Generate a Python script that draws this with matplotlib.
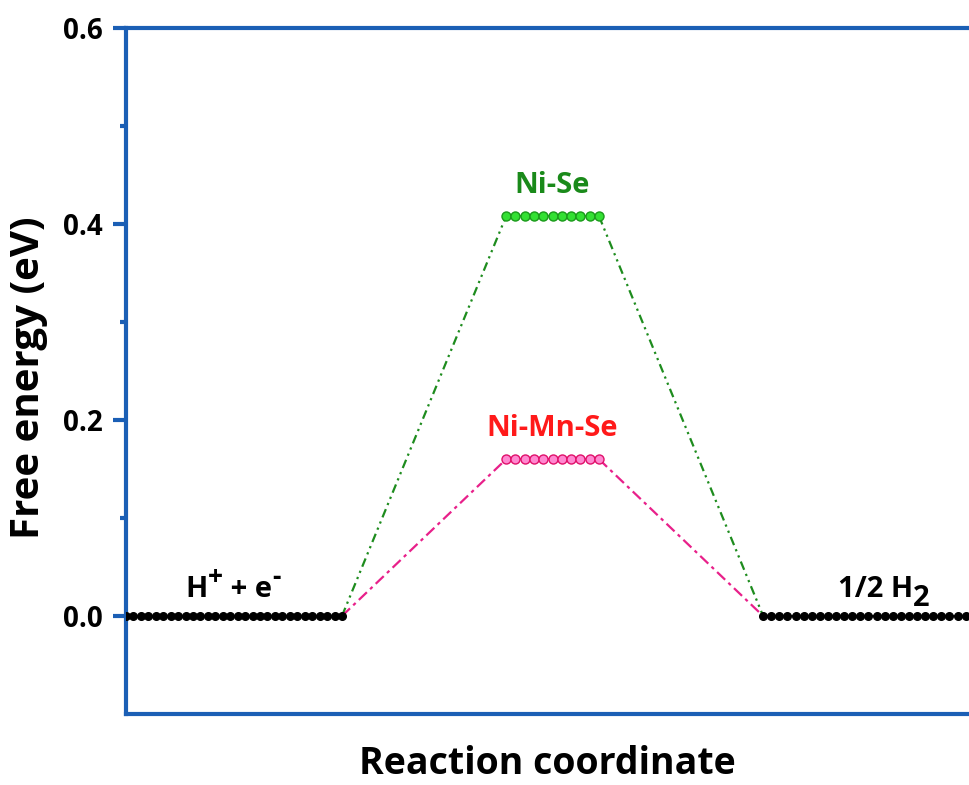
import numpy as np
import matplotlib
matplotlib.use("Agg")
import matplotlib.pyplot as plt
from matplotlib.transforms import offset_copy

plt.rcParams["font.family"] = ["Open Sans", "DejaVu Sans"]
plt.rcParams["font.weight"] = "bold"

# reaction steps: start, intermediate, end (x extents in reaction-coordinate units)
level_start = [0.0, 1.76, 2.95]
level_end = [1.0, 2.19, 4.0]

catalysts = ["Ni-Se", "Ni-Mn-Se"]
dG_H = [0.408, 0.16]          # eV, adsorbed H* free energy
line_colors = ["#1e8c1e", "#e8208a"]
face_colors = ["#33e033", "#ff88d0"]
edge_colors = ["#1a9a1a", "#e0106a"]
label_colors = ["#1a8a1a", "#ff1a1a"]
dash_styles = [(4, 2, 1, 2, 1, 2), (5, 2, 1.5, 2)]

BLUE = "#1b5fb5"

fig = plt.figure(figsize=(9.69, 7.85), dpi=100)
ax = fig.add_axes([0.130, 0.0904, 0.870, 0.8739])


def rich_label(ax, x, y, pieces):
    """Centered label built from (text, size, rise_pt) pieces."""
    renderer = fig.canvas.get_renderer()
    widths = []
    for s, size, _ in pieces:
        t = ax.text(0, 0, s, fontsize=size, fontweight="bold")
        widths.append(t.get_window_extent(renderer).width)
        t.remove()
    off = -sum(widths) / 2
    for (s, size, rise), w in zip(pieces, widths):
        tr = offset_copy(ax.transData, fig=fig, x=off, y=rise * fig.dpi / 72,
                         units="dots")
        ax.text(x, y, s, fontsize=size, fontweight="bold", transform=tr,
                ha="left", va="baseline", color="black")
        off += w


# connectors between levels
for name, g, lc, ds in zip(catalysts, dG_H, line_colors, dash_styles):
    ax.plot([level_end[0], level_start[1]], [0, g], color=lc, lw=1.6,
            dashes=ds, zorder=2)
    ax.plot([level_end[1], level_start[2]], [g, 0], color=lc, lw=1.6,
            dashes=ds, zorder=2)

# intermediate levels drawn as dotted bars
for name, g, fc, ec, tc in zip(catalysts, dG_H, face_colors, edge_colors,
                               label_colors):
    xs = np.linspace(level_start[1], level_end[1], 11)
    ax.plot(xs, [g] * len(xs), color=ec, lw=1.2, marker="o", ms=6.5,
            mfc=fc, mec=ec, mew=1.0, zorder=3)
    ax.text((level_start[1] + level_end[1]) / 2, g + 0.017, name,
            color=tc, fontsize=21, fontweight="bold", ha="center",
            va="bottom")

# initial and final states
for i in (0, 2):
    n = 30 if i == 0 else 29
    xs = np.linspace(level_start[i], level_end[i], n)
    ax.plot(xs, [0] * n, color="black", lw=1.2, marker="o", ms=5.5,
            mfc="black", mec="black", zorder=3)

ax.set_xlim(0, 3.903)
ax.set_ylim(-0.1, 0.6)

rich_label(ax, 0.495, 0.019, [("H", 21, 0), ("+", 19, 9), (" + e", 21, 0),
                              ("-", 19, 9)])
rich_label(ax, 3.51, 0.019, [("1/2 H", 21, 0), ("2", 21, -6)])

ax.set_yticks([0.0, 0.2, 0.4, 0.6])
ax.set_yticks([0.1, 0.3, 0.5], minor=True)
ax.set_yticklabels(["0.0", "0.2", "0.4", "0.6"])
ax.set_xticks([])

for side in ("left", "top", "bottom"):
    ax.spines[side].set_color(BLUE)
    ax.spines[side].set_linewidth(3.0)
ax.spines["right"].set_visible(False)

ax.tick_params(axis="y", which="major", direction="out", length=9.5,
               width=3.0, color=BLUE, labelsize=20, pad=7)
ax.tick_params(axis="y", which="minor", direction="out", length=4.5,
               width=3.0, color=BLUE)
for lbl in ax.get_yticklabels():
    lbl.set_fontweight("bold")

ax.set_ylabel("Free energy (eV)", fontsize=29, fontweight="bold")
ax.yaxis.set_label_coords(-0.093, 0.49)
ax.set_xlabel("Reaction coordinate", fontsize=27, fontweight="bold",
              labelpad=22)

fig.savefig("out.png", dpi=100, facecolor="white")
